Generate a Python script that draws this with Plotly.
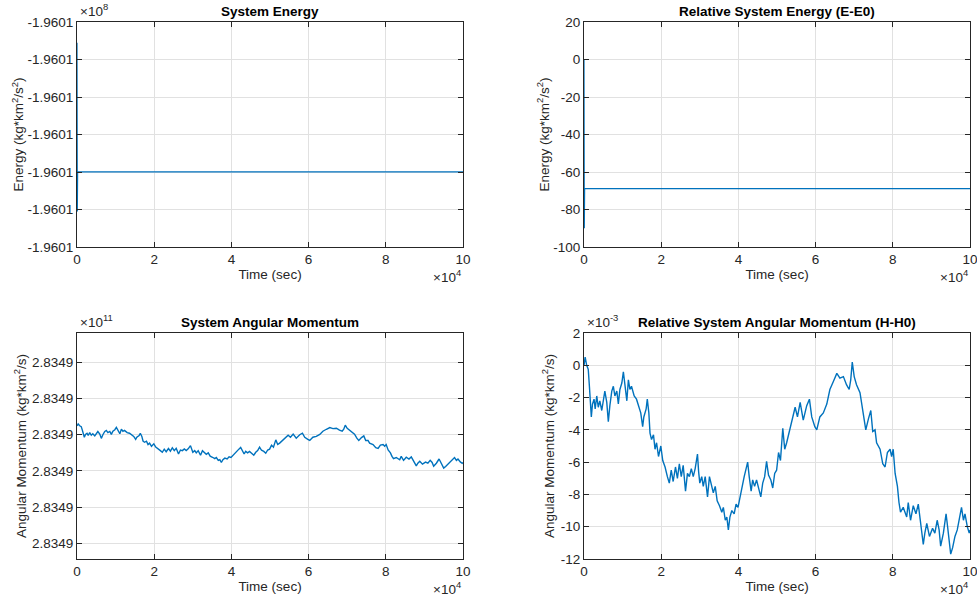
import plotly.graph_objects as go

# ---------------- data ----------------
# Energy (relative to E0), time in seconds
t_E = [0, 40, 80, 120, 160, 20000, 40000, 60000, 80000, 100000]
E_rel = [0.0, -45.0, -90.0, -75.0, -68.9, -68.9, -68.9, -68.9, -68.9, -68.9]
E0 = -196009991.0

# Angular momentum (relative to H0); time in units of 1e4 s, values in units of 1e-3
t_H_e4 = [0.00, 0.03, 0.07, 0.11, 0.14, 0.17, 0.19, 0.22, 0.26, 0.29, 0.33, 0.37, 0.41, 0.46,
          0.50, 0.54, 0.59, 0.63, 0.67, 0.72, 0.76, 0.80, 0.85, 0.89, 0.93, 0.98, 1.02, 1.06,
          1.11, 1.15, 1.19, 1.23, 1.30, 1.36, 1.42, 1.47, 1.52, 1.55, 1.61, 1.64, 1.68, 1.71,
          1.75, 1.80, 1.84, 1.88, 1.93, 1.99, 2.04, 2.10, 2.16, 2.21, 2.26, 2.31, 2.37, 2.42,
          2.47, 2.52, 2.57, 2.63, 2.68, 2.73, 2.78, 2.83, 2.88, 2.94, 2.97, 3.00, 3.05, 3.09,
          3.14, 3.20, 3.25, 3.31, 3.35, 3.40, 3.45, 3.51, 3.57, 3.61, 3.66, 3.70, 3.74, 3.78,
          3.83, 3.89, 3.94, 3.99, 4.04, 4.09, 4.15, 4.20, 4.24, 4.28, 4.33, 4.37, 4.42, 4.47,
          4.53, 4.58, 4.63, 4.68, 4.73, 4.78, 4.84, 4.89, 4.94, 4.99, 5.04, 5.09, 5.15, 5.20,
          5.25, 5.29, 5.38, 5.47, 5.53, 5.60, 5.68, 5.77, 5.84, 5.90, 5.98, 6.03, 6.11, 6.20,
          6.29, 6.37, 6.46, 6.55, 6.63, 6.72, 6.80, 6.87, 6.91, 6.95, 7.00, 7.06, 7.15, 7.19,
          7.25, 7.30, 7.37, 7.43, 7.48, 7.54, 7.58, 7.67, 7.74, 7.80, 7.86, 7.93, 7.97, 8.01,
          8.06, 8.12, 8.16, 8.20, 8.27, 8.36, 8.40, 8.46, 8.53, 8.60, 8.66, 8.72, 8.79, 8.83,
          8.88, 8.95, 9.03, 9.09, 9.15, 9.20, 9.24, 9.31, 9.38, 9.41, 9.46, 9.50, 9.55, 9.61,
          9.67, 9.74, 9.78, 9.83, 9.87, 9.93, 9.98, 10.00]
dH_milli = [0.0, 0.5, 0.0, -0.25, -1.3, -2.3, -3.2, -2.4, -2.1, -2.7, -1.9, -2.6, -2.2, -2.8,
            -2.1, -1.6, -2.3, -3.5, -2.5, -1.6, -1.3, -1.9, -1.6, -2.4, -1.5, -1.1, -0.4, -1.3,
            -2.2, -0.9, -1.5, -1.3, -1.9, -2.1, -2.6, -2.95, -3.8, -3.2, -2.7, -2.1, -2.95, -4.2,
            -4.6, -4.3, -5.2, -4.8, -5.65, -5.0, -5.9, -6.3, -6.9, -7.3, -6.5, -7.2, -6.3, -7.0,
            -6.1, -6.9, -6.2, -7.8, -6.7, -6.9, -6.4, -6.9, -6.4, -5.5, -6.6, -7.3, -6.9, -7.5,
            -6.9, -8.15, -6.9, -7.5, -7.9, -7.5, -8.4, -8.7, -9.1, -8.8, -9.6, -9.4, -10.2, -9.4,
            -9.0, -9.2, -8.6, -8.8, -8.15, -7.5, -6.9, -6.4, -6.0, -6.9, -7.8, -7.1, -7.5, -7.1,
            -7.7, -8.15, -7.3, -6.9, -5.95, -6.8, -7.1, -7.6, -6.7, -6.5, -5.4, -5.9, -3.9, -5.2,
            -4.8, -4.4, -3.4, -2.6, -3.2, -2.3, -3.4, -2.5, -2.1, -3.2, -3.8, -4.0, -3.2, -2.95,
            -2.4, -1.5, -1.0, -0.5, -0.8, -0.7, -1.2, -1.5, -0.9, 0.2, -0.7, -1.2, -1.7, -2.3,
            -3.4, -4.0, -3.3, -2.8, -4.1, -4.0, -4.8, -5.2, -6.1, -6.3, -5.4, -5.2, -5.65, -5.2,
            -6.7, -7.5, -8.5, -9.1, -8.8, -9.4, -8.5, -9.6, -8.7, -9.2, -8.6, -9.8, -11.1, -10.4,
            -9.8, -10.6, -10.1, -10.4, -9.6, -10.2, -11.2, -10.4, -9.2, -9.8, -10.9, -11.7, -11.3, -10.6,
            -10.2, -9.4, -8.8, -9.6, -9.2, -10.0, -10.4, -10.2]
H_tick_base = 283490000000.0
H0 = H_tick_base + 0.0025

# tick definitions
x_tickvals = [0, 20000, 40000, 60000, 80000, 100000]
x_ticktext = ["0", "2", "4", "6", "8", "10"]
E_tickvals = [-196010100, -196010080, -196010060, -196010040, -196010020, -196010000, -196009980]
E_ticktext = ["-1.9601"] * 7
Erel_tickvals = [-100, -80, -60, -40, -20, 0, 20]
H_tickvals = [H_tick_base + k * 0.01 for k in (-3, -2, -1, 0, 1, 2)]
H_ticktext = ["2.8349"] * 6
dH_tickvals = [-0.012, -0.010, -0.008, -0.006, -0.004, -0.002, 0.0, 0.002]
dH_ticktext = ["-12", "-10", "-8", "-6", "-4", "-2", "0", "2"]

titles = ["System Energy", "Relative System Energy (E-E0)",
          "System Angular Momentum", "Relative System Angular Momentum (H-H0)"]

# derived series
t_H = [v * 1e4 for v in t_H_e4]
dH = [v * 1e-3 for v in dH_milli]
H = [H0 + v for v in dH]
E = [E0 + v for v in E_rel]

# ---------------- figure ----------------
W, Hh = 977, 599
ML, MR, MT, MB = 77, 7, 22, 40          # plot-area margins (px)
PW, PH = W - ML - MR, Hh - MT - MB
FONT = "Liberation Sans, Arial, Helvetica, sans-serif"
TXT = "#262626"
LINE = "#0072BD"

def px_x(p):
    return (p - ML) / PW

def px_y(p):
    return (Hh - MB - p) / PH

dom_x = [(px_x(77), px_x(463)), (px_x(584), px_x(970))]
dom_y = [(px_y(247), px_y(22)), (px_y(559), px_y(333))]

fig = go.Figure()
series = [(t_E, E), (t_E, E_rel), (t_H, H), (t_H, dH)]
widths = [1.2, 1.2, 1.4, 1.4]
for i, (xs, ys) in enumerate(series):
    sfx = "" if i == 0 else str(i + 1)
    fig.add_trace(go.Scatter(x=xs, y=ys, mode="lines", line=dict(color=LINE, width=widths[i]),
                             xaxis="x" + sfx, yaxis="y" + sfx, showlegend=False,
                             hoverinfo="skip"))

common = dict(showline=True, linecolor=TXT, linewidth=1, mirror="ticks", ticks="inside",
              ticklen=5, tickcolor=TXT, tickwidth=1, showgrid=True, gridcolor="#e1e1e1",
              gridwidth=1, zeroline=False, automargin=False, ticklabeloverflow="allow",
              tickfont=dict(family=FONT, size=13.5, color=TXT))

ytitles = ["Energy (kg*km<sup>2</sup>/s<sup>2</sup>)", "Energy (kg*km<sup>2</sup>/s<sup>2</sup>)",
           "Angular Momentum (kg*km<sup>2</sup>/s)", "Angular Momentum (kg*km<sup>2</sup>/s)"]
ystandoff = [0, 0, 2, 3]
yticks = [(E_tickvals, E_ticktext, [E_tickvals[0], E_tickvals[-1]]),
          (Erel_tickvals, [str(v) for v in Erel_tickvals], [-100, 20]),
          (H_tickvals, H_ticktext, [H_tick_base - 0.0344, H_tick_base + 0.0282]),
          (dH_tickvals, dH_ticktext, [-0.012, 0.002])]

layout = dict(width=W, height=Hh, margin=dict(l=ML, r=MR, t=MT, b=MB),
              paper_bgcolor="white", plot_bgcolor="white", showlegend=False,
              font=dict(family=FONT, size=13, color=TXT))
annotations = []
for i in range(4):
    col, row = i % 2, i // 2
    sfx = "" if i == 0 else str(i + 1)
    xa = dict(common, domain=list(dom_x[col]), anchor="y" + sfx, range=[0, 100000],
              tickvals=x_tickvals, ticktext=x_ticktext,
              title=dict(text="Time (sec)", font=dict(family=FONT, size=13.5, color=TXT), standoff=3))
    tv, tt, rg = yticks[i]
    ya = dict(common, domain=list(dom_y[row]), anchor="x" + sfx, range=rg,
              tickvals=tv, ticktext=tt,
              title=dict(text=ytitles[i], font=dict(family=FONT, size=13.5, color=TXT),
                         standoff=ystandoff[i]))
    layout["xaxis" + sfx] = xa
    layout["yaxis" + sfx] = ya
    xl, xr = dom_x[col]
    yb, yt = dom_y[row]
    # subplot title
    annotations.append(dict(text="<b>" + titles[i] + "</b>", x=(xl + xr) / 2, y=yt + 1 / PH,
                            xref="paper", yref="paper", xanchor="center", yanchor="bottom",
                            showarrow=False, font=dict(family=FONT, size=13.5, color="black")))
    # x exponent
    annotations.append(dict(text="×10<sup>4</sup>", x=xr, y=yb - 18 / PH, xref="paper", yref="paper",
                            xanchor="right", yanchor="top", showarrow=False,
                            font=dict(family=FONT, size=13.5, color=TXT)))

yexp = {0: "×10<sup>8</sup>", 2: "×10<sup>11</sup>", 3: "×10<sup>-3</sup>"}
for i, txt in yexp.items():
    col, row = i % 2, i // 2
    xl, xr = dom_x[col]
    yb, yt = dom_y[row]
    annotations.append(dict(text=txt, x=xl + 1 / PW, y=yt + 1 / PH, xref="paper", yref="paper",
                            xanchor="left", yanchor="bottom", showarrow=False,
                            font=dict(family=FONT, size=13.5, color=TXT)))
layout["annotations"] = annotations
fig.update_layout(**layout)
fig.write_html("out.html", config={"displayModeBar": False},
               post_script="document.body.style.margin='0px';document.body.style.padding='0px';")
